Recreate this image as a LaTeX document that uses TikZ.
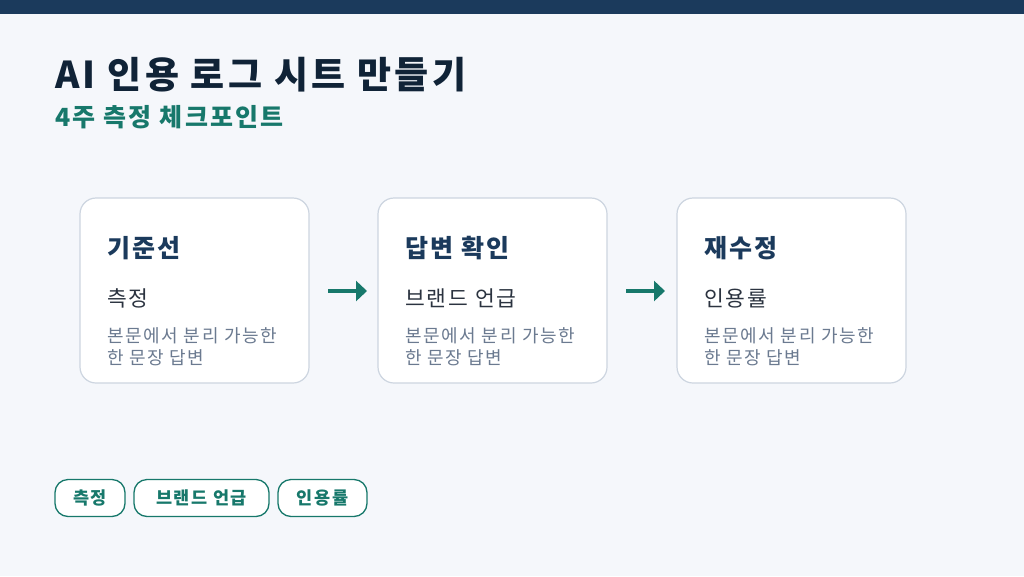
\documentclass[tikz,border=0pt]{standalone}
\usepackage{fontspec}
\setmainfont{Noto Sans CJK KR}[LetterSpace=9]
\usetikzlibrary{arrows.meta}
\definecolor{navy}{HTML}{1B3A5C}
\definecolor{bg}{HTML}{F5F7FB}
\definecolor{teal}{HTML}{17786B}
\definecolor{cardb}{HTML}{CDD5E0}
\definecolor{dark}{HTML}{2B3340}
\definecolor{muted}{HTML}{6B7A90}
\begin{document}
\begin{tikzpicture}[x=1pt,y=-1pt,
 card/.style={draw=cardb,line width=1.2pt,fill=white,rounded corners=16pt},
 ctitle/.style={anchor=west,font=\fontsize{25}{28}\selectfont\bfseries,text=navy},
 csub/.style={anchor=west,font=\fontsize{21.5}{25}\selectfont,text=dark},
 cbody/.style={anchor=north west,align=left,font=\fontsize{18}{22.5}\selectfont,text=muted,inner sep=0pt},
 arr/.style={-{Triangle[length=11pt,width=20pt]},line width=4pt,draw=teal},
 chip/.style={draw=teal,line width=1.3pt,rounded corners=13pt,fill=white,text=teal,font=\fontsize{17.5}{20}\selectfont\bfseries,minimum height=37pt,inner xsep=0pt}]
\useasboundingbox (0,0) rectangle (1024,576);
\fill[bg] (0,0) rectangle (1024,576);
\fill[navy] (0,0) rectangle (1024,14);
\node[anchor=west,font=\fontsize{37}{40}\selectfont\bfseries,text=navy!60!black,inner sep=0pt] (t) at (55,75) {AI 인용 로그 시트 만들기};
\node[anchor=west,font=\fontsize{25}{28}\selectfont\bfseries,text=teal,inner sep=0pt] (s) at (55,117) {4주 측정 체크포인트};
\foreach \i/\x/\a/\b in {1/80/기준선/측정,2/378/답변 확인/브랜드 언급,3/677/재수정/인용률}{
 \draw[card] (\x,198) rectangle ++(229,185);
 \node[ctitle,inner sep=0pt] (ct\i) at (\x+27,248) {\a};
 \node[csub,inner sep=0pt] (cs\i) at (\x+27,298) {\b};
 \node[cbody] (cb\i) at (\x+27,327) {본문에서 분리 가능한\\한 문장 답변};
}
\coordinate (a1s) at (328,291); \coordinate (a1e) at (367,291);
\coordinate (a2s) at (626,291); \coordinate (a2e) at (665,291);
\draw[arr] (a1s) -- (a1e);
\draw[arr] (a2s) -- (a2e);
\node[chip,minimum width=70pt] (p1) at (90,498) {측정};
\node[chip,minimum width=135pt] (p2) at (201.5,498) {브랜드 언급};
\node[chip,minimum width=89pt] (p3) at (322.5,498) {인용률};
\end{tikzpicture}
\end{document}
